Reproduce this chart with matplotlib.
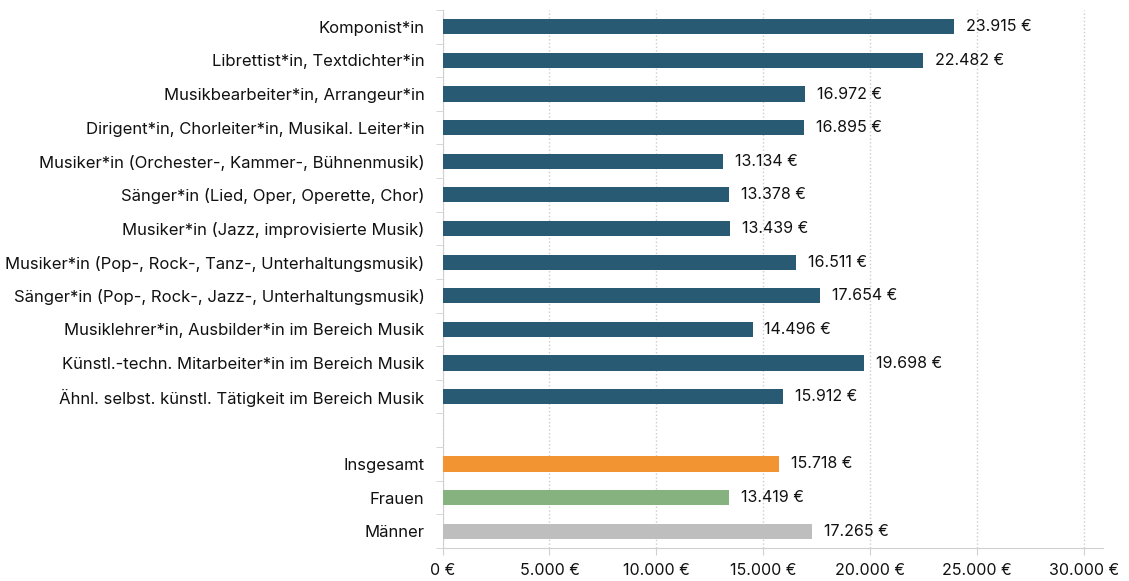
import matplotlib
matplotlib.use("Agg")
import matplotlib.pyplot as plt
import numpy as np
from matplotlib.ticker import FixedLocator, FuncFormatter

plt.rcParams['font.family'] = ['Inter', 'DejaVu Sans']

# data
categories = [
    "Komponist*in",
    "Librettist*in, Textdichter*in",
    "Musikbearbeiter*in, Arrangeur*in",
    "Dirigent*in, Chorleiter*in, Musikal. Leiter*in",
    "Musiker*in (Orchester-, Kammer-, Bühnenmusik)",
    "Sänger*in (Lied, Oper, Operette, Chor)",
    "Musiker*in (Jazz, improvisierte Musik)",
    "Musiker*in (Pop-, Rock-, Tanz-, Unterhaltungsmusik)",
    "Sänger*in (Pop-, Rock-, Jazz-, Unterhaltungsmusik)",
    "Musiklehrer*in, Ausbilder*in im Bereich Musik",
    "Künstl.-techn. Mitarbeiter*in im Bereich Musik",
    "Ähnl. selbst. künstl. Tätigkeit im Bereich Musik",
]
values = [23915, 22482, 16972, 16895, 13134, 13378, 13439, 16511, 17654, 14496, 19698, 15912]

summary_labels = ["Insgesamt", "Frauen", "Männer"]
summary_values = [15718, 13419, 17265]
summary_colors = ["#F39433", "#86B27F", "#BEBEBE"]

bar_color = "#285A73"


def euro(v):
    return "{:,.0f} €".format(v).replace(",", ".")


fig = plt.figure(figsize=(11.29, 5.81), dpi=100)
ax = fig.add_axes([0.392, 0.0568, 0.585, 0.926])

pos_main = np.arange(len(categories))
pos_sum = np.arange(len(summary_labels)) + len(categories) + 1

ax.barh(pos_main, values, height=0.45, color=bar_color, zorder=3)
ax.barh(pos_sum, summary_values, height=0.45, color=summary_colors, zorder=3)

for p, v in zip(list(pos_main) + list(pos_sum), values + summary_values):
    ax.text(v + 560, p, euro(v), va="center", ha="left", fontsize=11.5, color="#111111")

ax.set_ylim(pos_sum[-1] + 0.5, -0.5)
ax.set_xlim(0, 30890)

ax.set_yticks(list(pos_main) + list(pos_sum))
ax.set_yticklabels(categories + summary_labels, fontsize=12, color="#111111")
ax.tick_params(axis="y", which="major", length=0, pad=13)
ax.yaxis.set_minor_locator(FixedLocator(np.arange(-0.5, pos_sum[-1] + 1, 1.0)))
ax.tick_params(axis="y", which="minor", length=5, color="#D0D0D0")

ax.set_xticks(np.arange(0, 30001, 5000))
ax.xaxis.set_major_formatter(FuncFormatter(lambda v, _: euro(v)))
ax.tick_params(axis="x", length=5, color="#D0D0D0", labelsize=11.5, labelcolor="#111111", pad=6)

ax.grid(axis="x", linestyle=":", color="#CCCCCC", linewidth=1, zorder=0)
for s in ["top", "right"]:
    ax.spines[s].set_visible(False)
for s in ["left", "bottom"]:
    ax.spines[s].set_color("#D0D0D0")

fig.savefig("out.png", dpi=100)
